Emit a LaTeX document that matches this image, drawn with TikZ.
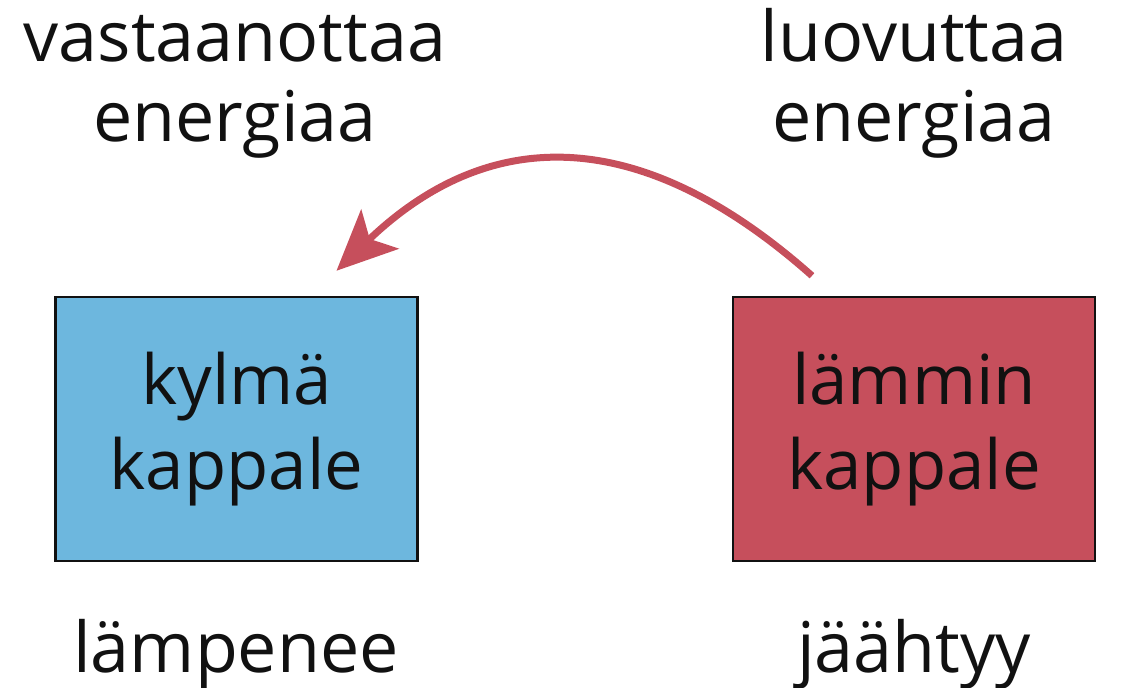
\documentclass[tikz,border=0pt]{standalone}
\usepackage{fontspec}
\setmainfont{Open Sans}
\usetikzlibrary{arrows.meta}
\definecolor{coldblue}{HTML}{6DB7DE}
\definecolor{warmred}{HTML}{C64F5C}
\definecolor{inkblack}{HTML}{111111}
\begin{document}
\begin{tikzpicture}[x=1pt,y=-1pt,
  label/.style={font=\fontsize{70}{80}\selectfont, text=inkblack, align=center, inner sep=0pt},
  body/.style={draw=inkblack, line width=2.5pt, minimum width=362pt, minimum height=264pt, inner sep=0pt,
    font=\fontsize{69}{85}\selectfont, text=inkblack, align=center},
  flow/.style={draw=warmred, line width=7pt, -{Stealth[length=60pt, width=54pt, inset=14pt]}}]
  \useasboundingbox (0,0) rectangle (1122,688);

  % the two bodies
  \node[body, fill=coldblue] (cold) at (236.5,429) {kylmä\\kappale};
  \node[body, fill=warmred] (warm) at (914,429) {lämmin\\kappale};

  % captions above and below (base = last line)
  \node[label, anchor=base] (recv) at (235,141) {vastaanottaa\\energiaa};
  \node[label, anchor=base] (give) at (914,141) {luovuttaa\\energiaa};
  \node[label, anchor=base] (warms) at (236,672) {lämpenee};
  \node[label, anchor=base] (cools) at (914,672) {jäähtyy};

  % heat flows from the warm body to the cold one
  \coordinate (src) at ([xshift=-102pt,yshift=20pt]warm.north);
  \coordinate (dst) at ([xshift=100pt,yshift=25pt]cold.north);
  \draw[flow] (src) .. controls (648,130) and (495,119) .. (dst);
\end{tikzpicture}
\end{document}
